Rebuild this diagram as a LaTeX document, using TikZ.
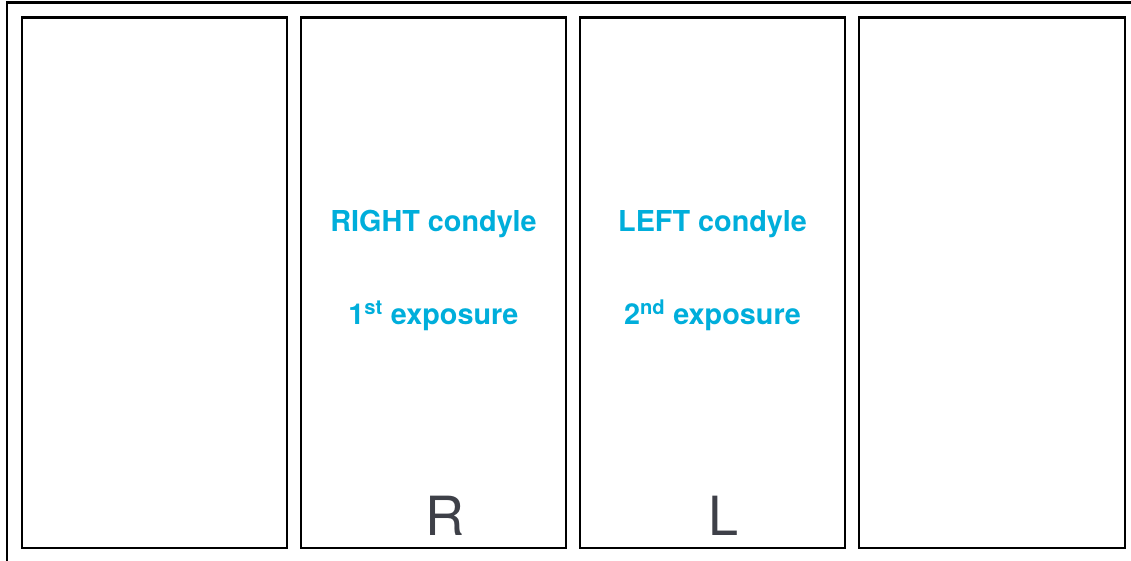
\documentclass[tikz,border=0pt]{standalone}
\usepackage{fontspec}
\setmainfont{TeX Gyre Heros}
\definecolor{condcyan}{RGB}{0,174,219}
\definecolor{sidegray}{RGB}{62,64,72}
\tikzset{
  panel/.style={draw=black,line width=2.4pt},
  cond/.style={anchor=base,inner sep=0pt,text=condcyan,font=\fontsize{28.8}{32}\selectfont\bfseries},
  side/.style={anchor=base,inner sep=0pt,text=sidegray,font=\fontsize{54}{58}\selectfont}
}
\begin{document}
\begin{tikzpicture}[x=1pt,y=-1pt]
\useasboundingbox (0,0) rectangle (1131,560);
\draw[line width=2.4pt] (7,562) -- (7,2.5) -- (1133,2.5);
\draw[panel] (22,17.5) rectangle (287,548);
\draw[panel] (301,17.5) rectangle (566,548);
\draw[panel] (580,17.5) rectangle (845,548);
\draw[panel] (859,17.5) rectangle (1125,548);
\node[cond] (rightcond) at (433.5,231) {RIGHT condyle};
\node[cond] (firstexp) at (433.5,324) {1\textsuperscript{st} exposure};
\node[cond] (leftcond) at (712.5,231) {LEFT condyle};
\node[cond] (secondexp) at (712.5,324) {2\textsuperscript{nd} exposure};
\node[side] (rlabel) at (445,535) {R};
\node[side] (llabel) at (723.5,535) {L};
\end{tikzpicture}
\end{document}
